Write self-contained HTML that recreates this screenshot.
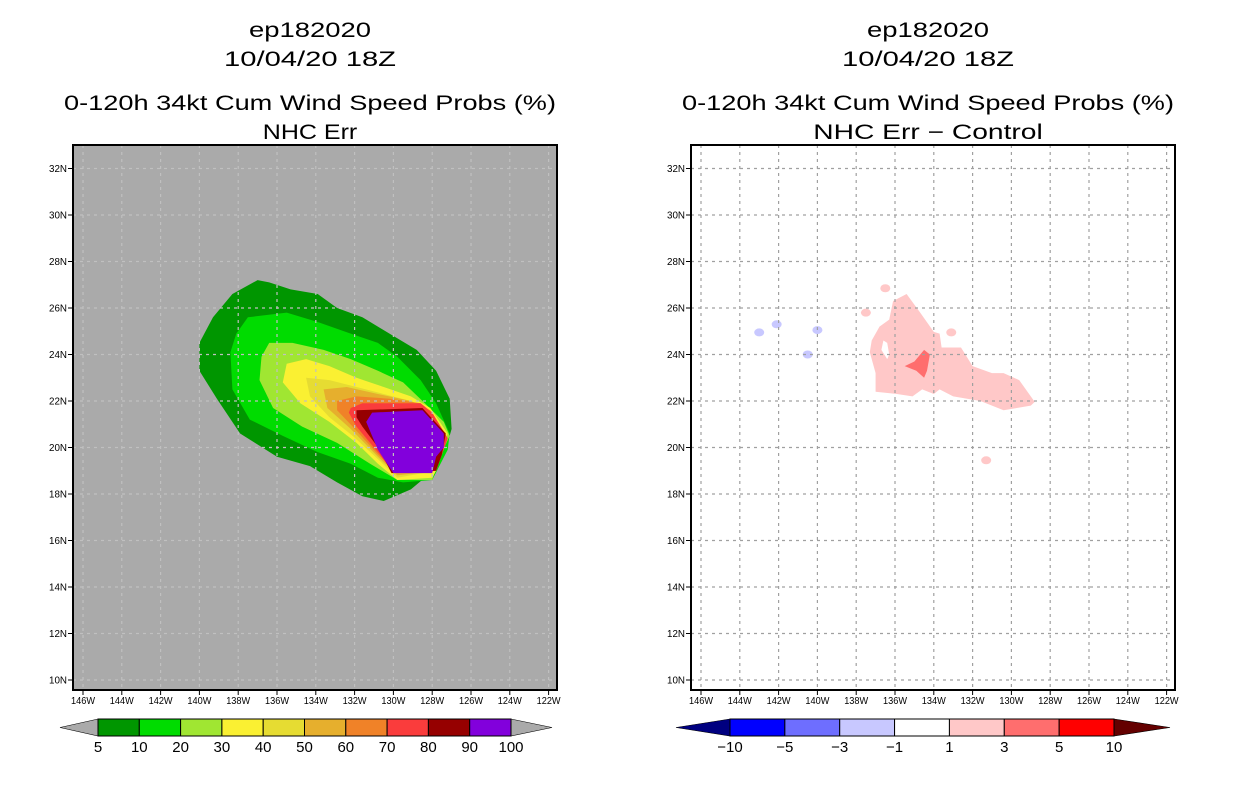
<!DOCTYPE html>
<html><head><meta charset="utf-8"><style>html,body{margin:0;padding:0;background:#fff}svg{display:block}</style></head>
<body>
<svg id="chart" width="1236" height="800" xmlns="http://www.w3.org/2000/svg" font-family="Liberation Sans, sans-serif"></svg>
<script>
const lonTicks=[-146,-144,-142,-140,-138,-136,-134,-132,-130,-128,-126,-124,-122];
const latTicks=[32,30,28,26,24,22,20,18,16,14,12,10];
const leftLevels=["5","10","20","30","40","50","60","70","80","90","100"];
const leftColors=["#009600","#00dc00","#a0e632","#faf032","#e6dc32","#e6af2d","#f08228","#fa3c3c","#960000","#8200dc"];
const rightLevels=["-10","-5","-3","-1","1","3","5","10"];
const rightColors=["#0000ff","#6e6eff","#c8c8ff","#ffffff","#ffc8c8","#ff6e6e","#ff0000"];
const c5=[[-137.0,27.2],[-136.4,27.1],[-135.3,26.8],[-133.9,26.6],[-132.9,26.0],[-131.6,25.6],[-130.2,24.9],[-128.8,24.2],[-127.8,23.3],[-127.1,22.1],[-127.0,20.8],[-127.4,19.6],[-128.1,18.9],[-129.1,18.2],[-130.5,17.7],[-131.6,17.9],[-132.9,18.5],[-134.3,19.2],[-136.0,19.6],[-137.9,20.6],[-139.1,22.1],[-140.0,23.3],[-140.0,24.5],[-139.3,25.6],[-138.3,26.6]];
const c10=[[-137.5,25.6],[-135.5,25.8],[-133.9,25.4],[-132.2,24.9],[-130.8,24.5],[-129.8,23.9],[-128.6,22.9],[-127.8,21.9],[-127.1,20.6],[-127.2,19.9],[-128.0,18.6],[-129.5,18.5],[-130.8,18.7],[-132.2,19.3],[-133.9,19.8],[-135.7,20.5],[-137.4,21.2],[-138.3,22.5],[-138.4,24.1],[-138.1,24.9]];
const c20=[[-136.4,24.5],[-135.2,24.5],[-133.6,24.2],[-132.2,23.8],[-130.8,23.3],[-129.5,22.8],[-128.5,22.0],[-127.4,21.1],[-127.1,20.5],[-127.6,19.6],[-128.0,18.6],[-129.8,18.6],[-131.2,19.3],[-132.9,20.2],[-134.7,20.9],[-136.2,21.7],[-136.9,22.9],[-136.8,23.9]];
const c30=[[-135.5,23.6],[-134.5,23.8],[-133.3,23.5],[-131.9,23.0],[-130.5,22.6],[-129.1,22.2],[-128.1,21.7],[-127.2,20.6],[-127.8,19.0],[-128.0,18.7],[-129.8,18.6],[-130.8,19.3],[-131.9,20.2],[-133.3,21.1],[-134.8,21.9],[-135.7,22.8]];
const c40=[[-134.5,23.0],[-133.3,22.9],[-131.9,22.6],[-130.5,22.3],[-129.1,22.0],[-128.1,21.6],[-127.4,20.6],[-127.8,19.0],[-129.8,18.7],[-130.8,19.5],[-132.1,20.5],[-133.3,21.3],[-134.3,22.2]];
const c50=[[-133.6,22.5],[-132.4,22.6],[-130.8,22.3],[-129.1,22.0],[-128.1,21.6],[-127.4,20.6],[-127.8,19.0],[-129.8,18.8],[-130.8,19.6],[-132.2,20.8],[-133.4,21.7]];
const c60=[[-132.9,22.0],[-131.9,22.2],[-130.2,22.1],[-128.6,21.9],[-128.0,21.5],[-127.2,20.4],[-127.8,19.0],[-129.8,18.9],[-130.8,19.7],[-132.1,20.9],[-132.9,21.6]];
const c70=[[-132.2,21.7],[-131.6,21.9],[-128.6,21.9],[-128.0,21.5],[-127.2,20.4],[-127.8,19.0],[-130.0,18.9],[-130.7,19.7],[-131.9,20.9],[-132.3,21.5]];
const c80=[[-131.9,21.6],[-128.5,21.7],[-127.3,20.6],[-127.5,19.7],[-127.8,19.0],[-130.1,18.9],[-130.7,19.9],[-131.6,20.9],[-131.9,21.3]];
const c90=[[-131.4,21.1],[-131.1,21.5],[-128.5,21.6],[-127.4,20.6],[-127.4,20.0],[-127.8,19.6],[-128.0,18.9],[-130.0,18.9],[-130.8,19.9]];
const d1=[[-136.1,26.3],[-135.4,26.6],[-134.7,25.8],[-134.0,24.97],[-133.7,24.9],[-133.6,24.3],[-132.6,24.3],[-132.0,23.5],[-131.0,23.2],[-130.4,23.2],[-129.6,22.9],[-128.8,21.96],[-129.0,21.8],[-130.4,21.6],[-131.6,22.0],[-133.0,22.2],[-133.7,22.5],[-134.0,22.3],[-134.6,22.5],[-135.1,22.2],[-135.9,22.3],[-137.0,22.4],[-137.0,23.2],[-137.3,24.1],[-137.2,24.6],[-136.8,25.2],[-136.3,25.5]];
const d1hole=[[-136.6,24.6],[-136.4,24.5],[-136.3,24.0],[-136.4,23.8],[-136.7,24.2]];
const d3=[[-134.5,24.2],[-134.2,24.0],[-134.35,23.3],[-134.5,23.0],[-134.9,23.3],[-135.5,23.5],[-135.0,23.7]];
const blobLon=[-136.5,-137.5,-133.1,-131.3,-143.0,-142.1,-140.0,-140.5];
const blobLat=[26.85,25.8,24.95,19.45,24.95,25.3,25.05,24.0];
const blobVal=[2,2,2,2,-2,-2,-2,-2];

const NS="http://www.w3.org/2000/svg";
const svg=document.getElementById('chart');
function el(tag,attrs,parent){const e=document.createElementNS(NS,tag);for(const k in attrs)e.setAttribute(k,attrs[k]);(parent||svg).appendChild(e);return e;}
const PX0=73,PX1=557,PY0=145,PY1=690;
function xs(off){return lon=>off+83+(lon+146)*19.4;}
function ys(lat){return 168.5+(32-lat)*23.25;}
function pts(poly,X){return poly.map(p=>X(p[0]).toFixed(1)+","+ys(p[1]).toFixed(1)).join(" ");}

function panel(off,bg,title4,name){
  const X=xs(off);
  const g=el('g',{});
  
  
  const cx=off+310;
  const lines=[["ep182020",30,122],["10/04/20 18Z",59,172],["0-120h 34kt Cum Wind Speed Probs (%)",103,492],[title4,132,title4.length*13.5]];
  lines.forEach((l,i)=>{const t=el('text',{x:cx,y:l[1]+7,'text-anchor':'middle','font-size':21,textLength:l[2],lengthAdjust:'spacingAndGlyphs',fill:'#000'},g);t.textContent=l[0];
    
    });
  const r=el('rect',{x:PX0+off,y:PY0,width:PX1-PX0,height:PY1-PY0,fill:bg},g);
  
  
  return {g,X};
}
function grid(g,X,off,col){
  lonTicks.forEach(l=>{el('line',{x1:X(l),x2:X(l),y1:PY0,y2:PY1,stroke:col,'stroke-width':1.2,'stroke-dasharray':'3,4'},g);});
  latTicks.forEach(l=>{el('line',{x1:PX0+off,x2:PX1+off,y1:ys(l),y2:ys(l),stroke:col,'stroke-width':1.2,'stroke-dasharray':'3,4'},g);});
}
function axes(g,X,off){
  const f=el('rect',{x:PX0+off,y:PY0,width:PX1-PX0,height:PY1-PY0,fill:'none',stroke:'#000','stroke-width':2},g);
  
  
  lonTicks.forEach(l=>{el('line',{x1:X(l),x2:X(l),y1:PY1,y2:PY1+5,stroke:'#000'},g);
    const t=el('text',{x:X(l),y:PY1+14,'text-anchor':'middle','font-size':10,textLength:24,lengthAdjust:'spacingAndGlyphs'},g);t.textContent=Math.abs(l)+"W";
    
    });
  latTicks.forEach(l=>{el('line',{x1:PX0+off-5,x2:PX0+off,y1:ys(l),y2:ys(l),stroke:'#000'},g);
    const t=el('text',{x:PX0+off-6,y:ys(l)+3.5,'text-anchor':'end','font-size':10,textLength:l>=10?18:12,lengthAdjust:'spacingAndGlyphs'},g);t.textContent=l+"N";
    
    });
}
function colorbar(g,x0,x1,tipL,tipR,levels,colors,leftTip,rightTip,name){
  const cb=el('g',{},g);
  
  
  const y0=719,y1=736,w=(x1-x0)/colors.length;
  el('polygon',{points:`${x0},${y0} ${tipL},${(y0+y1)/2} ${x0},${y1}`,fill:leftTip,stroke:'#000','stroke-width':0.6},cb);
  el('polygon',{points:`${x1},${y0} ${tipR},${(y0+y1)/2} ${x1},${y1}`,fill:rightTip,stroke:'#000','stroke-width':0.6},cb);
  colors.forEach((c,i)=>{el('rect',{x:x0+i*w,y:y0,width:w,height:y1-y0,fill:c,stroke:'#000','stroke-width':1},cb);});
  levels.forEach((lv,i)=>{const t=el('text',{x:x0+i*w,y:752,'text-anchor':'middle','font-size':15},cb);t.textContent=lv.replace('-','\u2212');
    
    });
}
// Left panel
let P=panel(0,'#aaaaaa','NHC Err','left-panel');
[c5,c10,c20,c30,c40,c50,c60,c70,c80,c90].forEach((poly,i)=>{
  const p=el('polygon',{points:pts(poly,P.X),fill:leftColors[i]},P.g);
  
  
});
grid(P.g,P.X,0,'#c0c0c0');
axes(P.g,P.X,0);
colorbar(P.g,98,511,60,552,leftLevels,leftColors,'#aaaaaa','#aaaaaa','left-colorbar');
// Right panel
const OFF=618;
P=panel(OFF,'#ffffff','NHC Err \u2212 Control','right-panel');
let p=el('polygon',{points:pts(d1,P.X),fill:rightColors[4]},P.g);


p=el('polygon',{points:pts(d1hole,P.X),fill:'#ffffff'},P.g);


p=el('polygon',{points:pts(d3,P.X),fill:rightColors[5]},P.g);


blobLon.forEach((lo,i)=>{
  const b=el('ellipse',{cx:P.X(lo),cy:ys(blobLat[i]),rx:5,ry:4,fill:blobVal[i]>0?rightColors[4]:rightColors[2]},P.g);
  
  
});
grid(P.g,P.X,OFF,'#a0a0a0');
axes(P.g,P.X,OFF);
colorbar(P.g,730,1114,676,1170,rightLevels,rightColors,'#000080','#640000','right-colorbar');
</script>
</body></html>
